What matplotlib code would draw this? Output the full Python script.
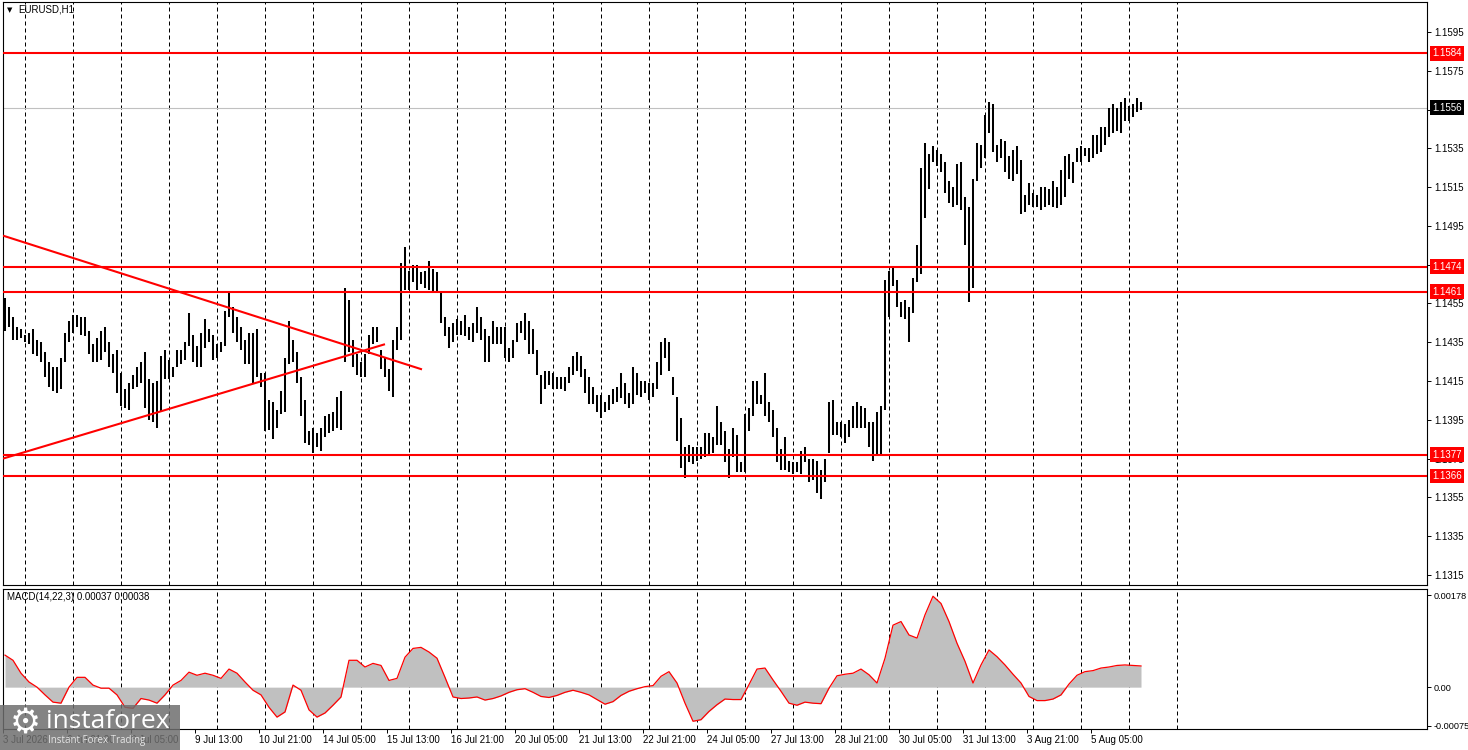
import numpy as np
import matplotlib
matplotlib.use("Agg")
import matplotlib.pyplot as plt
from matplotlib.patches import Rectangle
from matplotlib.transforms import blended_transform_factory

plt.rcParams['font.family'] = ['Liberation Sans', 'DejaVu Sans']

# ---------------- data (2-hour bars, EURUSD H1 chart) ----------------
bar_high = [
    1.1458, 1.1453, 1.1448, 1.1443, 1.1442, 1.1439, 1.1440, 1.1442, 1.1436, 1.1435,
    1.1430, 1.1425, 1.1422, 1.1422, 1.1427, 1.1440, 1.1446, 1.1449, 1.1449, 1.1448,
    1.1448, 1.1441, 1.1434, 1.1437, 1.1441, 1.1443, 1.1435, 1.1429, 1.1431, 1.1419,
    1.1411, 1.1414, 1.1418, 1.1422, 1.1425, 1.1430, 1.1416, 1.1414, 1.1415, 1.1428,
    1.1431, 1.1426, 1.1422, 1.1431, 1.1431, 1.1435, 1.1450, 1.1439, 1.1433, 1.1440,
    1.1447, 1.1442, 1.1439, 1.1434, 1.1435, 1.1451, 1.1461, 1.1453, 1.1448, 1.1443,
    1.1436, 1.1440, 1.1440, 1.1442, 1.1419, 1.1419, 1.1405, 1.1404, 1.1400, 1.1410,
    1.1427, 1.1446, 1.1436, 1.1430, 1.1417, 1.1405, 1.1389, 1.1391, 1.1388, 1.1391,
    1.1397, 1.1398, 1.1399, 1.1407, 1.1410, 1.1463, 1.1457, 1.1436, 1.1429, 1.1425,
    1.1429, 1.1439, 1.1443, 1.1443, 1.1431, 1.1427, 1.1421, 1.1436, 1.1443, 1.1476,
    1.1484, 1.1472, 1.1475, 1.1475, 1.1471, 1.1472, 1.1477, 1.1473, 1.1471, 1.1461,
    1.1448, 1.1443, 1.1445, 1.1447, 1.1446, 1.1449, 1.1443,
    1.1445, 1.1453, 1.1448, 1.1442, 1.1438, 1.1446, 1.1443, 1.1443, 1.1443, 1.1432,
    1.1436, 1.1445, 1.1446, 1.1450, 1.1446, 1.1442, 1.1431, 1.1418, 1.1420, 1.1420,
    1.1419, 1.1417, 1.1417, 1.1417, 1.1422, 1.1428, 1.1430, 1.1428, 1.1421, 1.1417,
    1.1412, 1.1408, 1.1408, 1.1404, 1.1408, 1.1411, 1.1412, 1.1419, 1.1414, 1.1409,
    1.1422, 1.1419, 1.1415, 1.1415, 1.1414, 1.1414, 1.1425, 1.1435, 1.1437, 1.1435,
    1.1417, 1.1407, 1.1396, 1.1381, 1.1382, 1.1381, 1.1381,
    1.1381, 1.1388, 1.1388, 1.1386, 1.1402, 1.1394, 1.1389, 1.1380, 1.1391, 1.1387,
    1.1373, 1.1398, 1.1401, 1.1415, 1.1415, 1.1408, 1.1419, 1.1404, 1.1400, 1.1391,
    1.1380, 1.1386, 1.1374, 1.1373, 1.1373, 1.1379, 1.1381, 1.1375, 1.1375, 1.1374,
    1.1369, 1.1375, 1.1404, 1.1405, 1.1394, 1.1394, 1.1393, 1.1395, 1.1402, 1.1404,
    1.1402, 1.1401, 1.1394, 1.1394, 1.1399, 1.1402, 1.1467, 1.1472, 1.1474, 1.1467,
    1.1456, 1.1457, 1.1453, 1.1468, 1.1485, 1.1525, 1.1538, 1.1532, 1.1536, 1.1534,
    1.1532, 1.1528, 1.1518, 1.1515, 1.1527, 1.1528, 1.1510, 1.1505, 1.1519, 1.1538,
    1.1537, 1.1552, 1.1559, 1.1558, 1.1537, 1.1540, 1.1539, 1.1531, 1.1534, 1.1536,
    1.1529, 1.1511, 1.1517, 1.1512, 1.1511, 1.1515, 1.1515, 1.1514, 1.1518, 1.1515,
    1.1524, 1.1531, 1.1532, 1.1528, 1.1535, 1.1536, 1.1535, 1.1535, 1.1542, 1.1542,
    1.1546, 1.1546, 1.1556, 1.1558, 1.1556, 1.1559, 1.1561, 1.1557, 1.1558, 1.1561,
    1.1559,
]
bar_low = [
    1.1441, 1.1443, 1.1436, 1.1436, 1.1437, 1.1435, 1.1434, 1.1429, 1.1428, 1.1425,
    1.1417, 1.1412, 1.1410, 1.1409, 1.1411, 1.1425, 1.1435, 1.1440, 1.1443, 1.1439,
    1.1438, 1.1429, 1.1425, 1.1425, 1.1426, 1.1430, 1.1422, 1.1419, 1.1409, 1.1402,
    1.1401, 1.1400, 1.1411, 1.1412, 1.1414, 1.1401, 1.1395, 1.1394, 1.1391, 1.1399,
    1.1416, 1.1416, 1.1417, 1.1422, 1.1424, 1.1426, 1.1433, 1.1425, 1.1422, 1.1422,
    1.1432, 1.1435, 1.1426, 1.1427, 1.1430, 1.1433, 1.1448, 1.1440, 1.1435, 1.1431,
    1.1424, 1.1424, 1.1414, 1.1417, 1.1412, 1.1389, 1.1390, 1.1385, 1.1391, 1.1398,
    1.1399, 1.1424, 1.1425, 1.1414, 1.1397, 1.1383, 1.1382, 1.1378, 1.1381, 1.1379,
    1.1386, 1.1388, 1.1389, 1.1391, 1.1390, 1.1425, 1.1430, 1.1422, 1.1418, 1.1417,
    1.1417, 1.1429, 1.1434, 1.1435, 1.1421, 1.1417, 1.1410, 1.1407, 1.1431, 1.1436,
    1.1462, 1.1462, 1.1466, 1.1462, 1.1465, 1.1463, 1.1462, 1.1461, 1.1461, 1.1445,
    1.1438, 1.1432, 1.1435, 1.1439, 1.1439, 1.1438, 1.1436,
    1.1435, 1.1440, 1.1436, 1.1425, 1.1425, 1.1434, 1.1434, 1.1434, 1.1427, 1.1425,
    1.1427, 1.1435, 1.1440, 1.1436, 1.1429, 1.1429, 1.1418, 1.1403, 1.1411, 1.1413,
    1.1411, 1.1411, 1.1411, 1.1410, 1.1414, 1.1418, 1.1420, 1.1417, 1.1409, 1.1403,
    1.1403, 1.1399, 1.1396, 1.1399, 1.1400, 1.1403, 1.1404, 1.1406, 1.1403, 1.1401,
    1.1403, 1.1408, 1.1407, 1.1409, 1.1405, 1.1407, 1.1411, 1.1418, 1.1427, 1.1420,
    1.1408, 1.1384, 1.1370, 1.1365, 1.1373, 1.1372, 1.1374,
    1.1375, 1.1376, 1.1377, 1.1378, 1.1382, 1.1382, 1.1373, 1.1365, 1.1376, 1.1368,
    1.1368, 1.1368, 1.1389, 1.1397, 1.1403, 1.1403, 1.1397, 1.1394, 1.1386, 1.1373,
    1.1369, 1.1369, 1.1368, 1.1367, 1.1368, 1.1367, 1.1373, 1.1363, 1.1364, 1.1357,
    1.1354, 1.1363, 1.1378, 1.1387, 1.1387, 1.1386, 1.1383, 1.1386, 1.1391, 1.1391,
    1.1391, 1.1391, 1.1381, 1.1374, 1.1377, 1.1377, 1.1400, 1.1448, 1.1464, 1.1453,
    1.1448, 1.1447, 1.1435, 1.1450, 1.1466, 1.1470, 1.1499, 1.1514, 1.1528, 1.1526,
    1.1523, 1.1512, 1.1507, 1.1505, 1.1506, 1.1503, 1.1485, 1.1456, 1.1463, 1.1518,
    1.1525, 1.1530, 1.1543, 1.1533, 1.1528, 1.1530, 1.1523, 1.1519, 1.1518, 1.1522,
    1.1501, 1.1502, 1.1506, 1.1505, 1.1505, 1.1503, 1.1505, 1.1506, 1.1505, 1.1504,
    1.1506, 1.1510, 1.1519, 1.1517, 1.1528, 1.1528, 1.1531, 1.1528, 1.1530, 1.1532,
    1.1533, 1.1537, 1.1541, 1.1543, 1.1544, 1.1543, 1.1549, 1.1549, 1.1551, 1.1554,
    1.1555,
]

# MACD histogram (main line), one value per 4 hours
macd_values = [
    0.00062, 0.00052, 0.00027, 0.00010, 0.00000, -0.00015, -0.00029, -0.00031, 0.00000, 0.00019,
    0.00019, 0.00004, -0.00002, -0.00002, -0.00015, -0.00039, -0.00041, -0.00022, -0.00025, -0.00031,
    -0.00015, 0.00004, 0.00013, 0.00029, 0.00023, 0.00027, 0.00023, 0.00017, 0.00035, 0.00027,
    0.00010, -0.00006, -0.00015, -0.00039, -0.00058, -0.00048, 0.00004, -0.00006, -0.00044, -0.00058,
    -0.00050, -0.00035, -0.00019, 0.00052, 0.00052, 0.00039, 0.00046, 0.00042, 0.00013, 0.00017,
    0.00058, 0.00075, 0.00077, 0.00068, 0.00056, 0.00019, -0.00019, -0.00022, -0.00021, -0.00019,
    -0.00025, -0.00022,
    -0.00017, -0.00010, -0.00005, -0.00003, -0.00010, -0.00018, -0.00020, -0.00016, -0.00010, -0.00006,
    -0.00010, -0.00015, -0.00024, -0.00033, -0.00028, -0.00016, -0.00008, -0.00003, 0.00001, 0.00003,
    0.00021, 0.00030, 0.00008, -0.00031, -0.00066, -0.00063, -0.00047, -0.00034, -0.00023, -0.00024,
    -0.00024, 0.00005, 0.00035, 0.00037, 0.00014, -0.00008, -0.00031, -0.00035, -0.00029, -0.00031,
    -0.00032, -0.00002, 0.00022, 0.00025, 0.00027, 0.00035, 0.00024, 0.00008, 0.00056, 0.00120,
    0.00127, 0.00101, 0.00095, 0.00140, 0.00176, 0.00162, 0.00127, 0.00085, 0.00050, 0.00008,
    0.00043, 0.00072, 0.00059, 0.00043, 0.00025, 0.00008, -0.00018, -0.00026, -0.00026, -0.00023,
    -0.00015, 0.00006, 0.00023, 0.00030, 0.00032, 0.00037, 0.00039, 0.00042, 0.00043, 0.00042,
    0.00041,
]

levels_red = [1.1584, 1.1474, 1.1461, 1.1377, 1.1366]
current_price = 1.1556
trend_down_h = [0, 209.5]
trend_down_p = [1.1490, 1.1421]
trend_up_h = [0, 191]
trend_up_p = [1.1375, 1.1434]

price_ticks = [1.1315, 1.1335, 1.1355, 1.1375, 1.1395, 1.1415, 1.1435, 1.1455,
               1.1475, 1.1495, 1.1515, 1.1535, 1.1555, 1.1575, 1.1595]
macd_ticks = [-0.00075, 0.0, 0.00178]
macd_tick_labels = ['-0.00075', '0.00', '0.00178']
time_labels = ['3 Jul 2026', '6 Jul 21:00', '8 Jul 05:00', '9 Jul 13:00', '10 Jul 21:00',
               '14 Jul 05:00', '15 Jul 13:00', '16 Jul 21:00', '20 Jul 05:00', '21 Jul 13:00',
               '22 Jul 21:00', '24 Jul 05:00', '27 Jul 13:00', '28 Jul 21:00', '30 Jul 05:00',
               '31 Jul 13:00', '3 Aug 21:00', '5 Aug 05:00']
HOURS_PER_LABEL = 32
HOURS_PER_DAY = 24
FIRST_DAY_SEP = 11

# ---------------- figure ----------------
FW, FH = 1468.0, 750.0
fig = plt.figure(figsize=(FW / 100, FH / 100), dpi=100)
fig.patch.set_facecolor('white')


def px_rect(l, t, r, b):
    return [l / FW, 1 - b / FH, (r - l) / FW, (b - t) / FH]


ax = fig.add_axes(px_rect(3, 2, 1427, 585))
axm = fig.add_axes(px_rect(3, 589, 1427, 729))

XMAX = 712
bar_h = 1 + 2 * np.arange(len(bar_high))
macd_h = 1 + 4 * np.arange(len(macd_values))
day_seps = np.arange(FIRST_DAY_SEP, 590, HOURS_PER_DAY)

for a in (ax, axm):
    a.set_xlim(0, XMAX)
    for s in a.spines.values():
        s.set_linewidth(0.8)
        s.set_color('black')
    for h in day_seps:
        a.axvline(h, color='black', lw=0.72, dashes=(4, 3), zorder=1)
    a.yaxis.tick_right()
    a.tick_params(axis='y', direction='out', length=3, width=0.7, pad=2,
                  labelsize=7, colors='black')

# main price panel
ax.set_ylim(1.13098, 1.16105)
ax.set_xticks([])
ax.set_yticks(price_ticks)
ax.set_yticklabels([f"{p:.4f}" for p in price_ticks])

ax.axhline(current_price, color='#c0c0c0', lw=0.8, zorder=2)
for lvl in levels_red:
    ax.axhline(lvl, color='#ff0000', lw=1.5, zorder=4)
ax.plot(trend_down_h, trend_down_p, color='#ff0000', lw=1.5, zorder=4, solid_capstyle='butt')
ax.plot(trend_up_h, trend_up_p, color='#ff0000', lw=1.5, zorder=4, solid_capstyle='butt')

ax.vlines(bar_h, bar_low, bar_high, color='black', lw=1.45, zorder=3)

blend = blended_transform_factory(ax.transAxes, ax.transData)
for lvl in levels_red:
    ax.annotate(f"{lvl:.4f}", xy=(1, lvl), xycoords=blend, xytext=(5, 0),
                textcoords='offset pixels', va='center', ha='left', fontsize=7,
                color='white', annotation_clip=False, zorder=6,
                bbox=dict(boxstyle='square,pad=0.25', fc='#ff0000', ec='none'))
ax.annotate(f"{current_price:.4f}", xy=(1, current_price), xycoords=blend, xytext=(5, 0),
            textcoords='offset pixels', va='center', ha='left', fontsize=7,
            color='white', annotation_clip=False, zorder=6,
            bbox=dict(boxstyle='square,pad=0.25', fc='black', ec='none'))

# MACD panel
axm.set_ylim(-0.00081, 0.00190)
axm.fill_between(macd_h, 0, macd_values, color='#c0c0c0', lw=0, zorder=2)
axm.plot(macd_h, macd_values, color='#ff0000', lw=0.9, zorder=3)
axm.set_yticks(macd_ticks)
axm.set_yticklabels(macd_tick_labels)
axm.tick_params(axis='y', labelsize=6.6, pad=1.5)
label_pos = HOURS_PER_LABEL * np.arange(len(time_labels))
axm.set_xticks(label_pos)
axm.set_xticklabels(time_labels, ha='left')
axm.tick_params(axis='x', direction='out', length=3, width=0.7, pad=1.5,
                labelsize=7, colors='black')

# titles
fig.text(7 / FW, 1 - 10 / FH, '\u25bc', fontsize=5, color='black', va='center',
         family='DejaVu Sans')
fig.text(18 / FW, 1 - 10 / FH, 'EURUSD,H1', fontsize=7, color='black', va='center')
fig.text(7 / FW, 1 - 597 / FH, 'MACD(14,22,3) 0.00037 0.00038', fontsize=7,
         color='black', va='center')

# watermark logo
fig.patches.append(Rectangle((0, 0), 180 / FW, 45 / FH, transform=fig.transFigure,
                             fc='#6e6e6e', alpha=0.85, ec='none', zorder=10))
fig.text(25 / FW, 1 - 724 / FH, '\u2699', fontsize=25, color='white', ha='center',
         va='center', family='DejaVu Sans', zorder=11)
fig.text(46 / FW, 1 - 721 / FH, 'instaforex', fontsize=19, color='white', ha='left',
         va='center', family='Open Sans', zorder=11)
fig.text(48 / FW, 1 - 740 / FH, 'Instant Forex Trading', fontsize=7, color='#e6e6e6',
         ha='left', va='center', family='Open Sans', zorder=11)

fig.savefig('out.png', dpi=100, facecolor='white')
